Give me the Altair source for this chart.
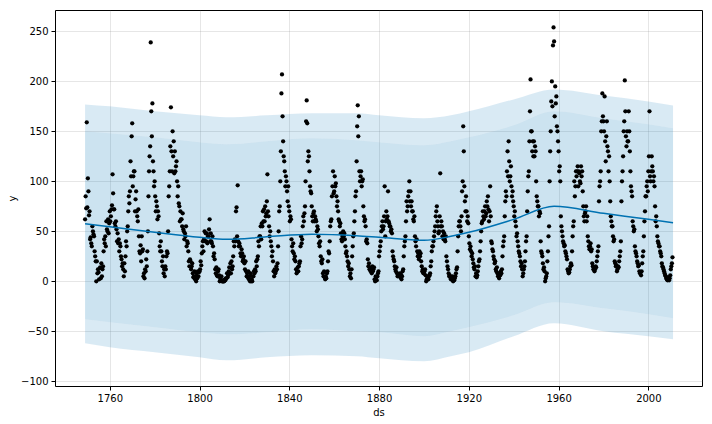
import altair as alt
import pandas as pd

era_starts = [1749, 1800, 1850, 1900, 1950]

sun_1749_1799 = [
    62, 85, 73, 159,  74, 103, 90, 66,  70, 42, 44, 38,  35, 55, 50, 47,  45, 30, 25, 20,
    0, 20, 8, 12,  9, 2, 13, 14,  3, 18, 5, 12,  15, 30, 42, 38,  45, 35, 60, 52,
    50, 62, 48, 58,  70, 60, 65, 72,  76, 107, 88, 72,  72, 58, 55, 60,  52, 40, 48, 38,
    42, 30, 38, 35,  25, 22, 15, 18,  12, 5, 18, 10,  25, 40, 35, 50,  55, 70, 85, 78,
    90, 120, 105, 145,  158, 95, 105, 110,  110, 70, 82, 90,  70, 65, 60, 72,  45, 30, 28, 36,
    20, 45, 30, 32,  5, 8, 3, 12,  10, 22, 15, 30,  50, 85, 110, 125,  135, 239, 170, 145,
    178, 120, 110, 95,  100, 85, 70, 80,  75, 62, 70, 65,  48, 35, 30, 40,  30, 20, 15, 25,
    8, 12, 5, 15,  12, 25, 30, 28,  50, 85, 95, 110,  135, 174, 130, 110,  150, 125, 140, 108,
    130, 110, 115, 120,  100, 85, 95, 78,  75, 60, 70, 62,  62, 55, 68, 52,  50, 42, 48, 45,
    55, 35, 40, 38,  30, 20, 15, 22,  20, 12, 15, 18,  8, 4, 5, 10,  2, 5, 0, 8,
    3, 10, 5, 9,
]

sun_1800_1849 = [
    10, 12, 20, 16,  28, 35, 40, 30,  42, 50, 40, 48,  40, 48, 38, 45,  45, 52, 62, 40,
    48, 40, 38, 45,  35, 25, 28, 22,  12, 8, 14, 6,  5, 10, 12, 6,  0, 3, 2, 5,
    0, 0, 0, 0,  0, 2, 1, 3,  3, 8, 4, 6,  10, 14, 8, 18,  8, 20, 12, 15,
    25, 40, 35, 42,  40, 70, 74, 45,  96, 40, 35, 38,  35, 28, 25, 32,  28, 20, 22, 25,
    18, 12, 20, 10,  5, 8, 4, 10,  2, 5, 0, 8,  0, 2, 0, 5,  5, 10, 8, 12,
    10, 20, 15, 22,  25, 40, 35, 45,  45, 55, 42, 58,  55, 70, 60, 72,  60, 75, 65, 68,
    80, 107, 70, 65,  55, 45, 50, 40,  35, 25, 30, 20,  10, 5, 12, 8,  10, 15, 12, 18,
    35, 50, 70, 75,  100, 130, 188, 207,  165, 140, 125, 120,  110, 95, 105, 100,  90, 80, 95, 75,
    70, 60, 65, 62,  42, 35, 30, 38,  28, 22, 25, 20,  12, 8, 10, 14,  10, 15, 18, 20,
    35, 45, 38, 42,  55, 65, 60, 68,  75, 100, 160, 181,  158, 120, 130, 125,  110, 95, 90, 88,
]

sun_1850_1899 = [
    75, 65, 60, 68,  70, 60, 65, 62,  60, 50, 55, 52,  45, 38, 35, 40,  25, 20, 18, 22,
    8, 5, 10, 4,  2, 5, 3, 8,  10, 20, 30, 28,  40, 55, 60, 62,  85, 95, 110, 88,
    90, 105, 95, 98,  85, 75, 80, 70,  62, 60, 55, 58,  48, 42, 40, 45,  50, 45, 48, 42,
    35, 28, 30, 25,  20, 15, 18, 12,  5, 8, 3, 12,  25, 35, 45, 48,  60, 70, 85, 90,
    120, 155, 176, 145,  165, 110, 100, 105,  110, 95, 100, 102,  75, 65, 60, 62,  55, 40, 42, 38,
    22, 15, 18, 12,  12, 10, 14, 8,  15, 10, 12, 14,  2, 0, 5, 4,  1, 5, 8, 10,
    25, 30, 35, 40,  50, 55, 60, 52,  55, 65, 95, 45,  60, 70, 62, 65,  90, 60, 58, 55,
    55, 50, 52, 48,  30, 25, 22, 20,  15, 12, 10, 14,  8, 5, 7, 6,  5, 8, 4, 7,
    2, 5, 10, 12,  25, 35, 40, 45,  60, 80, 70, 75,  85, 90, 100, 80,  90, 75, 80, 70,
    70, 62, 60, 65,  45, 40, 35, 42,  30, 25, 28, 22,  30, 25, 28, 20,  15, 10, 12, 8,
]

sun_1900_1949 = [
    8, 10, 12, 6,  0, 2, 3, 5,  2, 5, 6, 8,  15, 20, 30, 35,  35, 40, 45, 50,
    55, 65, 70, 75,  60, 55, 48, 50,  65, 108, 55, 60,  55, 45, 50, 42,  48, 42, 40, 45,
    25, 20, 15, 12,  8, 5, 6, 4,  2, 4, 3, 5,  0, 2, 1, 3,  5, 8, 12, 14,
    30, 45, 55, 60,  60, 55, 50, 65,  90, 100, 155, 130,  95, 80, 70, 85,  70, 60, 65, 58,
    45, 38, 32, 35,  30, 25, 28, 22,  18, 14, 12, 15,  5, 8, 4, 6,  10, 15, 20, 22,
    30, 40, 50, 58,  60, 70, 65, 62,  70, 75, 65, 68,  80, 75, 85, 72,  60, 70, 95, 65,
    40, 38, 32, 30,  25, 22, 18, 20,  12, 10, 14, 8,  5, 8, 3, 6,  6, 10, 8, 12,
    25, 35, 40, 45,  65, 80, 90, 85,  110, 130, 105, 140,  120, 100, 105, 115,  95, 85, 90, 80,
    75, 65, 70, 60,  55, 45, 48, 40,  35, 30, 28, 25,  20, 15, 18, 12,  5, 8, 12, 15,
    20, 30, 40, 45,  70, 90, 105, 110,  140, 170, 202, 150,  150, 130, 140, 125,  140, 125, 135, 130,
]

sun_1950_2010 = [
    100, 85, 80, 75,  75, 65, 70, 68,  40, 30, 28, 25,  18, 12, 14, 10,  0, 3, 5, 8,
    20, 30, 45, 55,  100, 130, 150, 180,  200, 175, 236, 254,  240, 165, 195, 178,  185, 155, 150, 140,
    130, 110, 115, 100,  65, 55, 50, 45,  40, 38, 35, 36,  30, 28, 25, 22,  12, 10, 8, 9,
    12, 15, 18, 16,  30, 45, 55, 60,  100, 85, 95, 110,  105, 110, 115, 95,  110, 108, 100, 98,
    115, 105, 110, 90,  75, 65, 60, 68,  70, 75, 60, 65,  45, 40, 35, 32,  35, 38, 30, 32,
    18, 15, 12, 14,  10, 12, 15, 14,  20, 25, 30, 35,  80, 95, 100, 110,  150, 160, 188, 165,
    160, 150, 185, 140,  120, 145, 160, 135,  130, 110, 125, 100,  80, 65, 60, 55,  55, 45, 40, 42,
    20, 18, 15, 16,  10, 12, 15, 14,  20, 25, 30, 40,  80, 100, 110, 125,  150, 160, 201, 170,
    145, 135, 150, 140,  140, 170, 150, 130,  110, 95, 90, 85,  60, 55, 50, 52,  35, 30, 28, 25,
    20, 18, 15, 16,  10, 8, 9, 6,  10, 18, 25, 30,  45, 60, 70, 85,  85, 95, 100, 90,
    110, 125, 170, 105,  100, 110, 125, 115,  110, 100, 105, 95,  75, 60, 65, 55,  45, 40, 38, 35,
    35, 30, 28, 25,  18, 15, 14, 12,  10, 8, 6, 5,  3, 2, 1, 4,  2, 1, 3, 6,
    12, 15, 18, 24,
]

# ---- fitted trend and uncertainty band ----
band_years = [1749, 1760, 1780, 1800, 1812, 1830, 1850, 1870, 1880, 1900, 1912, 1920, 1940, 1958, 1980, 2000, 2011]
yhat = [57.5, 54.5, 49, 44, 42, 44.5, 47, 45.5, 44, 41, 45, 49, 62, 75, 68, 62, 58.5]
upper_inner = [150, 148, 144, 139, 137, 140, 143, 141, 139, 136, 140, 144, 156, 170, 163, 157, 153]
upper_outer = [177, 175, 170, 166, 164, 166, 168, 168, 166, 163, 166, 170, 182, 192, 186, 180, 176]
lower_inner = [-38, -41, -46, -51, -53, -51, -48, -50, -51, -55, -50, -46, -34, -21, -27, -33, -37]
lower_outer = [-62, -66, -71, -76, -79, -76, -74, -75, -77, -80, -75, -71, -55, -42, -50, -55, -58]

rows = []
for start, vals in zip(era_starts, [sun_1749_1799, sun_1800_1849, sun_1850_1899, sun_1900_1949, sun_1950_2010]):
    for i, v in enumerate(vals):
        rows.append({"ds": start + i / 4.0, "y": v})
pts = pd.DataFrame(rows)

band = pd.DataFrame({
    "ds": band_years, "yhat": yhat,
    "upper_inner": upper_inner, "upper_outer": upper_outer,
    "lower_inner": lower_inner, "lower_outer": lower_outer,
})

FONT = "DejaVu Sans"
xscale = alt.Scale(domain=[1735.6, 2023.9], nice=False, zero=False)
yscale = alt.Scale(domain=[-104.7, 271.4], nice=False, zero=False)
xaxis = alt.Axis(values=[1760, 1800, 1840, 1880, 1920, 1960, 2000], format="d", title="ds",
                 titleY=26, titleBaseline="middle")
yaxis = alt.Axis(values=[-100, -50, 0, 50, 100, 150, 200, 250], format="d", title="y",
                 titleX=-43, titleY=188, titleAngle=-90, titleAlign="center", titleBaseline="middle")

X = alt.X("ds:Q", scale=xscale, axis=xaxis)

base_band = alt.Chart(band)

fringe_up = base_band.mark_area(color="#0072B2", opacity=0.15, interpolate="monotone", clip=True).encode(
    x=X, y=alt.Y("upper_outer:Q", scale=yscale, axis=yaxis), y2="upper_inner:Q")
fringe_lo = base_band.mark_area(color="#0072B2", opacity=0.15, interpolate="monotone", clip=True).encode(
    x=X, y=alt.Y("lower_inner:Q", scale=yscale, axis=yaxis), y2="lower_outer:Q")
main_band = base_band.mark_area(color="#0072B2", opacity=0.2, interpolate="monotone", clip=True).encode(
    x=X, y=alt.Y("upper_inner:Q", scale=yscale, axis=yaxis), y2="lower_inner:Q")

dots = alt.Chart(pts).mark_circle(color="black", size=18, opacity=1, clip=True).encode(
    x=X, y=alt.Y("y:Q", scale=yscale, axis=yaxis))

trend = base_band.mark_line(color="#0072B2", strokeWidth=1.5, interpolate="monotone", clip=True).encode(
    x=X, y=alt.Y("yhat:Q", scale=yscale, axis=yaxis))

chart = alt.layer(fringe_up, fringe_lo, main_band, dots, trend).properties(
    width=647, height=376,
    background="white",
    autosize=alt.AutoSizeParams(type="none"),
    padding={"left": 47, "top": 2, "right": 2, "bottom": 30},
).configure_view(
    stroke="black", strokeWidth=1
).configure_axis(
    domain=False, grid=True, gridColor="#808080", gridOpacity=0.2, gridWidth=1,
    tickColor="black", tickSize=4, tickWidth=1, labelPadding=3,
    labelFont=FONT, labelFontSize=10, labelColor="black",
    titleFont=FONT, titleFontSize=10, titleColor="black", titleFontWeight="normal",
    zindex=1,
)

chart.save("out.html", embed_options={"renderer": "svg", "actions": False})
